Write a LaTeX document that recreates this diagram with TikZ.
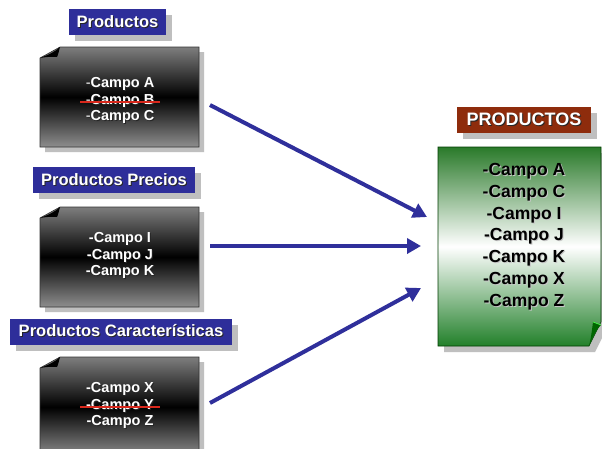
\documentclass[tikz,border=0pt]{standalone}
\usepackage{fontspec}
\setmainfont{Liberation Sans}
\usetikzlibrary{arrows.meta}
\definecolor{navy}{HTML}{2F2F9B}
\definecolor{lblblue}{HTML}{2E2E9A}
\definecolor{lblbrown}{HTML}{8E2C0C}
\definecolor{shgray}{HTML}{BFBFBF}
\definecolor{pgtop}{HTML}{7E7E7E}
\definecolor{pgbot}{HTML}{8E8E8E}
\definecolor{gtop}{HTML}{2A7A2A}
\definecolor{gbot}{HTML}{22802A}
\definecolor{strikered}{HTML}{D8281C}
\newcommand\shw[1]{\rlap{\kern1pt\raisebox{-1pt}{\color{black!85}#1}}#1}
\newcommand\shb[1]{\rlap{\kern1pt\raisebox{-1pt}{\color{white!55!gray}#1}}#1}
\newcommand\darkpage[1]{%
\begin{scope}[shift={#1}]
\fill[shgray] (5,16) -- (25,5) -- (164,5) -- (164,105) -- (5,105) -- cycle;
\shadedraw[top color=pgtop, bottom color=pgbot, middle color=black, draw=black!80, line width=0.6pt]
  (0,11) -- (20,0) -- (159,0) -- (159,100) -- (0,100) -- cycle;
\fill[black] (0,11) .. controls (8,8) and (15,5) .. (20,0) .. controls (19,4) and (18,8) .. (17,10) .. controls (11,9.5) and (5,10) .. (0,11) -- cycle;
\end{scope}}
\tikzset{
  lbl/.style={font=\fontsize{16.5}{18}\selectfont\bfseries, text=white, minimum height=26pt,
    inner xsep=0pt, inner ysep=0pt,
    preaction={fill=shgray, transform canvas={shift={(6pt,-6pt)}}}},
  boxtext/.style={align=center, text=white, font=\fontsize{14.5}{16.5}\selectfont\bfseries, inner sep=0pt},
  greentext/.style={align=center, text=black, font=\fontsize{17.5}{21.8}\selectfont\bfseries, inner sep=0pt},
  conn/.style={draw=navy, line width=4pt, -{Triangle[length=14pt,width=15pt]}},
  strike/.style={draw=strikered, line width=1.3pt}
}
\begin{document}
\begin{tikzpicture}[x=1pt,y=-1pt]
\useasboundingbox[fill=white] (0,0) rectangle (602,448);

% dark pages
\darkpage{(40,47)}
\darkpage{(40,207)}
\darkpage{(40,357)}

% green page
\fill[shgray] (444,153) -- (607,153) -- (607,328) -- (595,352) -- (444,352) -- cycle;
\shadedraw[top color=gtop, bottom color=gbot, middle color=white, draw=black!60!green!60!black, line width=0.6pt]
  (438,147) -- (601,147) -- (601,322) -- (589,346) -- (438,346) -- cycle;
\fill[green!40!black] (589,346) .. controls (591,338) and (592,330) .. (593,322) -- (601,325) .. controls (596,330) and (592,338) .. (589,346) -- cycle;
\draw[green!70!white, line width=0.6pt] (593,322) -- (601,325);

% labels
\node[lbl, fill=lblblue, minimum width=97pt] (L1) at (117.5,22) {\shw{Productos}};
\node[lbl, fill=lblblue, minimum width=162pt] (L2) at (114,180) {\shw{Productos Precios}};
\node[lbl, fill=lblblue, minimum width=222pt] (L3) at (121,331.5) {\shw{Productos Características}};
\node[lbl, fill=lblbrown, minimum width=134pt, font=\fontsize{18}{20}\selectfont\bfseries] (L4) at (524,120) {\shw{PRODUCTOS}};

% texts
\node[boxtext] (t1) at (120,101) {\shw{{\mdseries-}Campo A}\\ \shw{{\mdseries-}Campo B}\\ \shw{{\mdseries-}Campo C}};
\node[boxtext] (t2) at (120,256) {\shw{-Campo I}\\ \shw{-Campo J}\\ \shw{-Campo K}};
\node[boxtext] (t3) at (120,406) {\shw{-Campo X}\\ \shw{-Campo Y}\\ \shw{-Campo Z}};
\node[greentext] (g) at (524,237) {\shb{-Campo A}\\ \shb{-Campo C}\\ \shb{-Campo I}\\ \shb{-Campo J}\\ \shb{-Campo K}\\ \shb{-Campo X}\\ \shb{-Campo Z}};

% strike-throughs
\draw[strike] ([xshift=-40pt,yshift=-1pt]t1.center) -- ([xshift=40pt,yshift=-1pt]t1.center);
\draw[strike] ([xshift=-40pt,yshift=-1pt]t3.center) -- ([xshift=40pt,yshift=-1pt]t3.center);

% connectors
\coordinate (a1s) at (210,105);
\coordinate (a1e) at (427,217);
\coordinate (a2s) at (210,246);
\coordinate (a2e) at (421,246);
\coordinate (a3s) at (210,403);
\coordinate (a3e) at (421,288);
\draw[conn] (a1s) -- (a1e);
\draw[conn] (a2s) -- (a2e);
\draw[conn] (a3s) -- (a3e);
\end{tikzpicture}
\end{document}
